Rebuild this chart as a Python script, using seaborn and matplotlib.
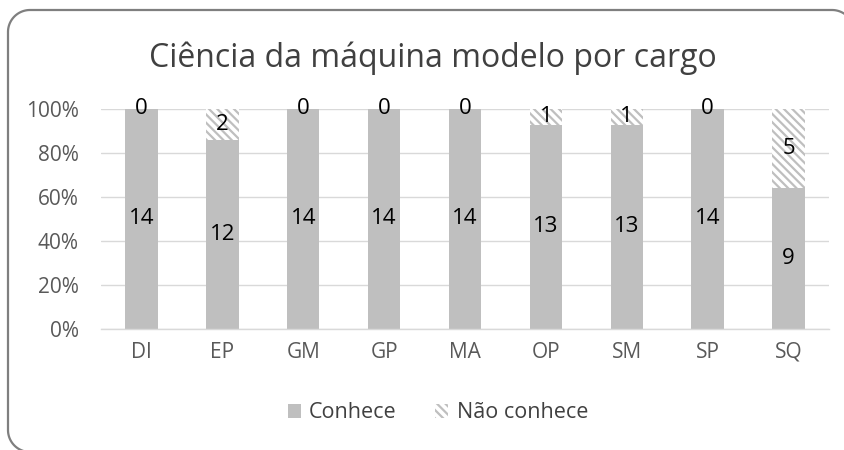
import matplotlib
matplotlib.use("Agg")
import matplotlib.pyplot as plt
import seaborn as sns
import pandas as pd
import numpy as np
from matplotlib.patches import Patch

categories = ["DI", "EP", "GM", "GP", "MA", "OP", "SM", "SP", "SQ"]
conhece = [14, 12, 14, 14, 14, 13, 13, 14, 9]
nao_conhece = [0, 2, 0, 0, 0, 1, 1, 0, 5]
yticks = [0, 20, 40, 60, 80, 100]
ytick_labels = ["0%", "20%", "40%", "60%", "80%", "100%"]
title = "Ciência da máquina modelo por cargo"
legend_labels = ["Conhece", "Não conhece"]

totals = [a + b for a, b in zip(conhece, nao_conhece)]
pct_c = [100.0 * a / t for a, t in zip(conhece, totals)]
pct_total = [100.0 for _ in totals]
df = pd.DataFrame({"cat": categories, "c": pct_c, "tot": pct_total})

sns.set_style("white")
plt.rcParams["font.family"] = ["Open Sans", "DejaVu Sans"]
plt.rcParams["hatch.linewidth"] = 1.6

fig = plt.figure(figsize=(8.45, 4.5), dpi=100)

# background frame (rounded border) in pixel coordinates
bg = fig.add_axes([0, 0, 1, 1], zorder=-5)
bg.set_xlim(0, 845)
bg.set_ylim(450, 0)
bg.axis("off")
L, T, R, B, r = 8, 10, 854, 452, 22
def arc(cx, cy, a0, a1):
    t = np.radians(np.linspace(a0, a1, 30))
    return cx + r * np.cos(t), cy - r * np.sin(t)
segs = []
segs.append(arc(R - r, T + r, 0, 90))
segs.append((np.array([R - r, L + r]), np.array([T, T])))
segs.append(arc(L + r, T + r, 90, 180))
segs.append((np.array([L, L]), np.array([T + r, B - r])))
segs.append(arc(L + r, B - r, 180, 270))
xs = np.concatenate([s[0] for s in segs])
ys = np.concatenate([s[1] for s in segs])
bg.plot(xs, ys, color="#7F7F7F", linewidth=1.6, solid_capstyle="round", clip_on=True)

ax = fig.add_axes([101 / 845, (450 - 329) / 450, 728 / 845, 220 / 450])
ax.patch.set_alpha(0)

GRAY = "#BFBFBF"
sns.barplot(data=df, x="cat", y="tot", ax=ax, color="white", saturation=1,
            width=0.4, edgecolor=GRAY, linewidth=0, hatch="\\\\\\\\", errorbar=None)
sns.barplot(data=df, x="cat", y="c", ax=ax, color=GRAY, saturation=1,
            width=0.4, edgecolor=GRAY, linewidth=0, errorbar=None)

ax.set_ylim(0, 100)
ax.set_xlim(-0.5, len(categories) - 0.5)
ax.set_yticks(yticks)
ax.set_yticklabels(ytick_labels)
ax.yaxis.grid(True, color="#D9D9D9", linewidth=1)
ax.set_axisbelow(True)
for s in ["top", "right", "left"]:
    ax.spines[s].set_visible(False)
ax.spines["bottom"].set_color("#D9D9D9")
ax.spines["bottom"].set_linewidth(1)
ax.tick_params(axis="both", length=0, labelsize=15, colors="#595959")
ax.tick_params(axis="y", pad=16)
ax.tick_params(axis="x", pad=9)
ax.set_xlabel("")
ax.set_ylabel("")

for i, (c, n, t) in enumerate(zip(conhece, nao_conhece, totals)):
    pc = 100.0 * c / t
    pn = 100.0 * n / t
    ax.text(i, pc / 2, str(c), ha="center", va="center", fontsize=16, color="#000000")
    ax.text(i, pc + pn / 2, str(n), ha="center", va="center", fontsize=16, color="#000000")

fig.text(433 / 845, 1 - 58 / 450, title, ha="center", va="center", fontsize=23, color="#404040")

handles = [Patch(facecolor=GRAY, edgecolor=GRAY, linewidth=0),
           Patch(facecolor="white", edgecolor=GRAY, linewidth=0, hatch="\\\\\\\\")]
fig.legend(handles, legend_labels, loc="center", bbox_to_anchor=(438 / 845, 1 - 413 / 450),
           ncol=2, frameon=False, fontsize=15.5, handlelength=0.6, handleheight=0.6,
           handletextpad=0.4, columnspacing=1.8, labelcolor="#404040")

fig.savefig("out.png", dpi=100)
